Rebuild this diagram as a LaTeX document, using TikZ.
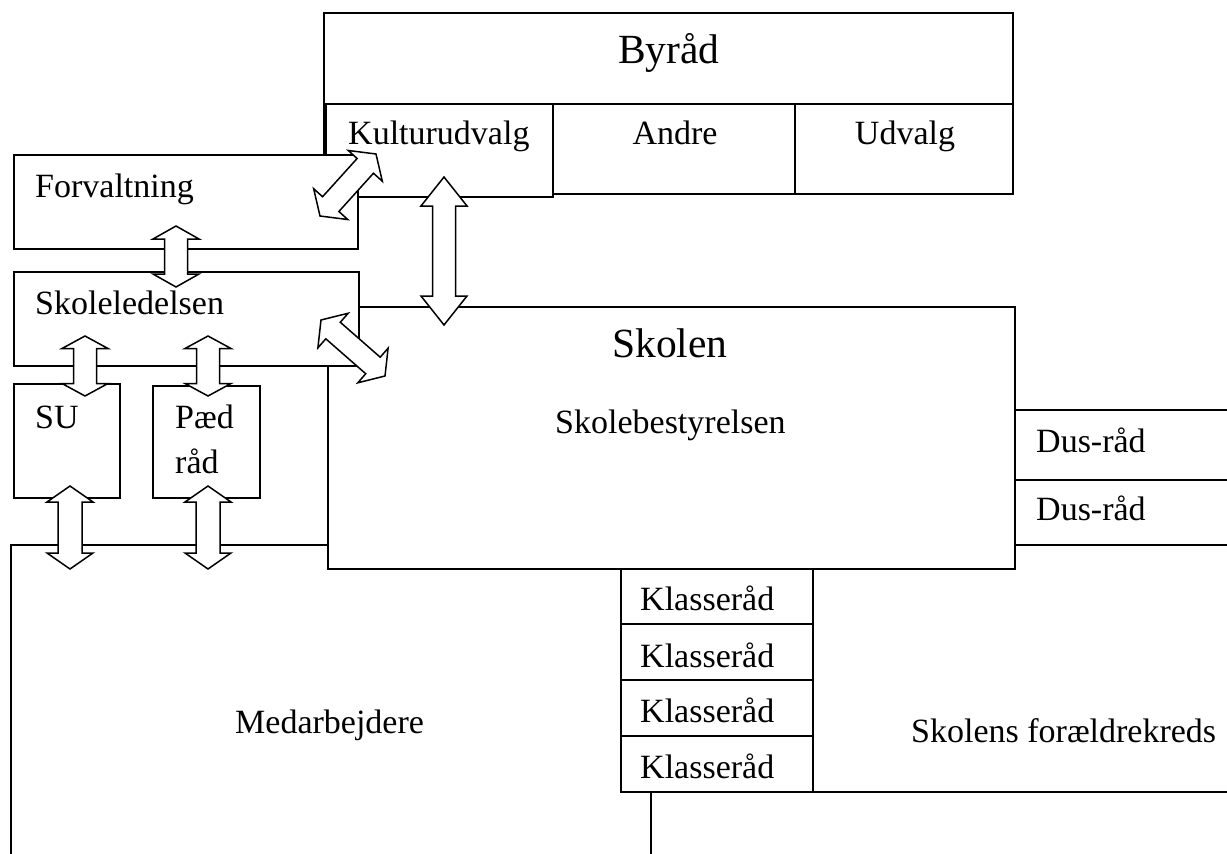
\documentclass[tikz,border=0pt]{standalone}
\usepackage{fontspec}
\setmainfont{Liberation Serif}
\usetikzlibrary{calc}
\tikzset{
  box/.style={draw=black, line width=1.6pt, fill=white},
  arr/.style={draw=black, fill=white, line width=1.5pt, line join=miter},
  lbl/.style={inner sep=0pt, font=\fontsize{34}{40}\selectfont},
  biglbl/.style={inner sep=0pt, font=\fontsize{41.5}{48}\selectfont}
}
\newcommand\blockarrow[5]{%
  \coordinate (bp1) at ($(#1)!#3!(#2)$);
  \coordinate (bp2) at ($(#2)!#3!(#1)$);
  \draw[arr] (#1) -- ($(bp1)!#4!90:(#2)$) -- ($(bp1)!#5!90:(#2)$)
    -- ($(bp2)!#5!-90:(#1)$) -- ($(bp2)!#4!-90:(#1)$) -- (#2)
    -- ($(bp2)!#4!90:(#1)$) -- ($(bp2)!#5!90:(#1)$)
    -- ($(bp1)!#5!-90:(#2)$) -- ($(bp1)!#4!-90:(#2)$) -- cycle;
}
\begin{document}
\begin{tikzpicture}[x=1pt,y=-1pt]
\useasboundingbox[fill=white] (0,0) rectangle (1227,854);
\clip (0,0) rectangle (1227,854);
% large regions
\draw[box] (11,545) rectangle (651,900);
\draw[box] (651,545) rectangle (1300,792);
\draw[box] (1015,410) rectangle (1300,480);
\draw[box] (1015,480) rectangle (1300,545);
\draw[box] (328,307) rectangle (1015,569);
% Klasseraad
\draw[box] (621,569) rectangle (813,624);
\draw[box] (621,624) rectangle (813,680);
\draw[box] (621,680) rectangle (813,736);
\draw[box] (621,736) rectangle (813,792);
% Byraad
\draw[box] (324,13) rectangle (1013,194);
\draw[box] (326,104) rectangle (553,197);
\draw[box] (553,104) rectangle (795,194);
\draw[box] (795,104) rectangle (1013,194);
% left column
\draw[box] (14,155) rectangle (358,249);
\draw[box] (14,272) rectangle (359,366);
\draw[box] (14,384) rectangle (120,498);
\draw[box] (153,386) rectangle (260,498);
% arrow end points
\coordinate (kA) at (444,177); \coordinate (kB) at (444,325);
\coordinate (fA) at (176,226); \coordinate (fB) at (176,287);
\coordinate (suA) at (85,336); \coordinate (suB) at (85,396);
\coordinate (pA) at (208,336); \coordinate (pB) at (208,396);
\coordinate (suC) at (70,486); \coordinate (suD) at (70,569);
\coordinate (pC) at (208,486); \coordinate (pD) at (208,569);
\coordinate (dA) at (320,216); \coordinate (dB) at (376,154);
\coordinate (eA) at (321,320); \coordinate (eB) at (385,376);
\blockarrow{kA}{kB}{29pt}{23pt}{11.5pt}
\blockarrow{fA}{fB}{13pt}{23pt}{11.5pt}
\blockarrow{suA}{suB}{12.5pt}{23pt}{11.5pt}
\blockarrow{pA}{pB}{12.5pt}{23pt}{11.5pt}
\blockarrow{suC}{suD}{16pt}{23pt}{12pt}
\blockarrow{pC}{pD}{16pt}{23pt}{12pt}
\blockarrow{dA}{dB}{16pt}{23pt}{11pt}
\blockarrow{eA}{eB}{16pt}{23pt}{11pt}
% labels
\node[biglbl, anchor=base] (byraad) at (669,63) {Byråd};
\node[lbl, anchor=base west] (kultur) at (348,144) {Kulturudvalg};
\node[lbl, anchor=base] (andre) at (675,144) {Andre};
\node[lbl, anchor=base] (udvalg) at (905,144) {Udvalg};
\node[lbl, anchor=base west] (forv) at (35,197) {Forvaltning};
\node[lbl, anchor=base west] (skoleled) at (35,314) {Skoleledelsen};
\node[lbl, anchor=base west] (su) at (35,428) {SU};
\node[lbl, anchor=base west] (paed) at (175,428) {Pæd};
\node[lbl, anchor=base west] (raad) at (175,473) {råd};
\node[biglbl, anchor=base] (skolen) at (670,357) {Skolen};
\node[lbl, anchor=base west] (bestyr) at (555,433) {Skolebestyrelsen};
\node[lbl, anchor=base west] (dus1) at (1036,452) {Dus-råd};
\node[lbl, anchor=base west] (dus2) at (1036,520) {Dus-råd};
\node[lbl, anchor=base west] (kl1) at (640,610) {Klasseråd};
\node[lbl, anchor=base west] (kl2) at (640,667) {Klasseråd};
\node[lbl, anchor=base west] (kl3) at (640,722) {Klasseråd};
\node[lbl, anchor=base west] (kl4) at (640,778) {Klasseråd};
\node[lbl, anchor=base west] (medarb) at (235,733) {Medarbejdere};
\node[lbl, anchor=base west] (foraeld) at (911,742) {Skolens forældrekreds};
\end{tikzpicture}
\end{document}
